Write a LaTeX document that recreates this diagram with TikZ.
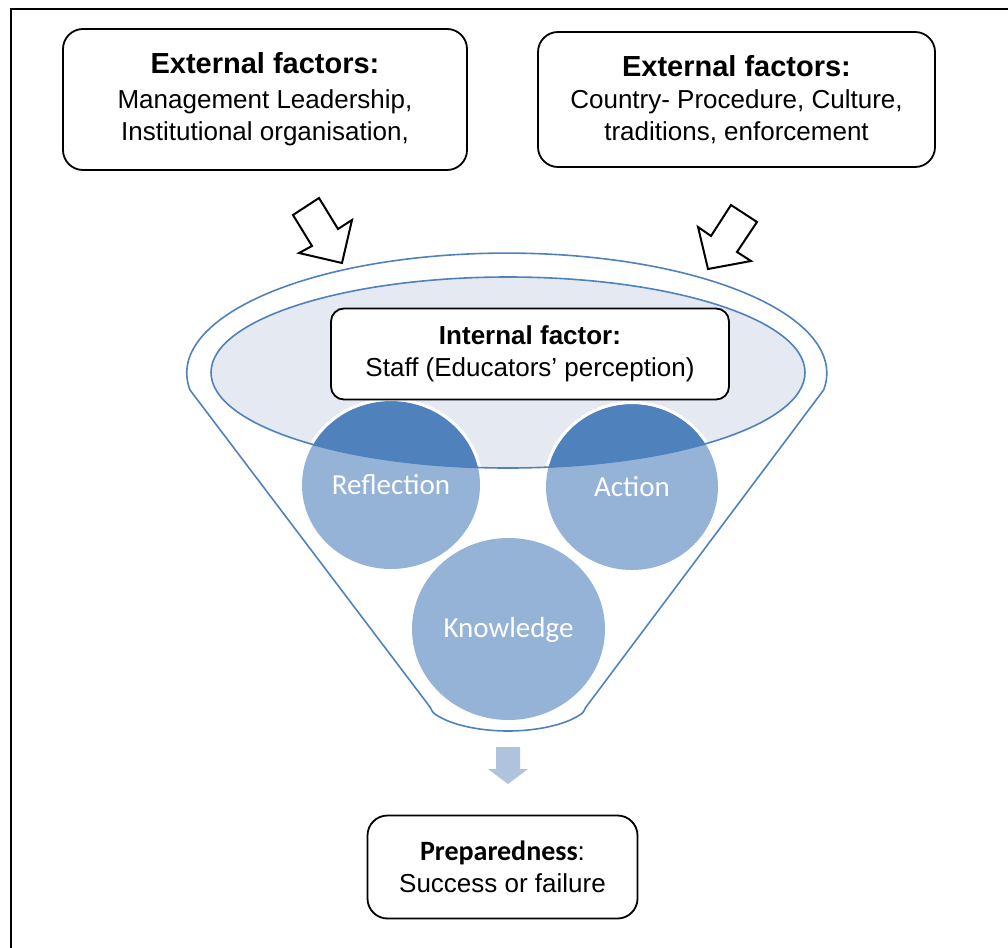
\documentclass[tikz,border=0pt]{standalone}
\usepackage{fontspec}
\setmainfont{Liberation Sans}
\newfontfamily\calfont{Carlito}
\usetikzlibrary{shapes.geometric}
\definecolor{fblue}{HTML}{4F81BD}
\definecolor{lblue}{HTML}{95B3D7}
\definecolor{efill}{HTML}{E4E9F2}
\definecolor{darrow}{HTML}{AFC2DE}
\begin{document}
\begin{tikzpicture}[x=1pt,y=-1pt,
  extbox/.style={draw, line width=1.8pt, rounded corners=20pt, align=center, inner sep=0pt, fill=white,
    font=\fontsize{26}{32}\selectfont},
  blockarrow/.style={draw=black, fill=white, line width=2pt, line join=miter},
  circlabel/.style={text=white, inner sep=0pt, anchor=base, font=\calfont\fontsize{29}{34}\selectfont},
  funnelline/.style={draw=fblue, line width=1.6pt, line join=round}
]
\useasboundingbox (0,0) rectangle (1008,947);
\clip (0,0) rectangle (1008,947);
% frame
\draw[line width=2pt] (11,950) -- (11,9) -- (1012,9);

% external boxes
\node[extbox, minimum width=404pt, minimum height=141pt] (ext1) at (265,99.5)
  {{\fontsize{29}{34}\selectfont\bfseries External factors:}\\[3pt] Management Leadership,\\ Institutional organisation,};
\node[extbox, minimum width=397pt, minimum height=135pt] (ext2) at (736.5,99.5)
  {{\fontsize{29}{34}\selectfont\bfseries External factors:}\\[0pt] Country- Procedure, Culture,\\ traditions, enforcement};

% block arrows
\draw[blockarrow] (293,215) -- (319,198) -- (338,229) -- (352,220) -- (342,263) -- (299,253) -- (312,246) -- cycle;
\draw[blockarrow] (731,205) -- (757,222) -- (737,252) -- (751,261) -- (708,269) -- (698,227) -- (711,236) -- cycle;

% funnel outline
\draw[funnelline] (190,390) arc[start angle=171.9, end angle=368.1, x radius=320, y radius=120]
  -- (586,707) .. controls (583,713) .. (578,716)
  .. controls (560,727) and (530,731) .. (508,731)
  .. controls (486,731) and (456,727) .. (438,716)
  .. controls (433,713) .. (430,707) -- cycle;

% inner ellipse fill
\fill[efill] (508,372.5) ellipse [x radius=297, y radius=95.5];

% circles light
\fill[lblue] (391,485) ellipse [x radius=89, y radius=84];
\fill[lblue] (632,487) ellipse [x radius=86, y radius=83];
\fill[lblue] (508.5,629) ellipse [x radius=96.5, y radius=91];
% dark parts inside ellipse
\begin{scope}
  \clip (508,372.5) ellipse [x radius=297, y radius=95.5];
  \fill[fblue] (391,485) ellipse [x radius=89, y radius=84];
  \fill[fblue] (632,487) ellipse [x radius=86, y radius=83];
  \draw[white, line width=3pt] (391,485) ellipse [x radius=90.5, y radius=85.5];
  \draw[white, line width=3pt] (632,487) ellipse [x radius=87.5, y radius=84.5];
\end{scope}
% inner ellipse outline
\draw[funnelline] (508,372.5) ellipse [x radius=297, y radius=95.5];

% circle labels
\node[circlabel] (refl) at (391,494) {Reflection};
\node[circlabel] (act) at (632,496) {Action};
\node[circlabel] (know) at (508.5,637) {Knowledge};

% internal box
\node[extbox, rounded corners=13pt, minimum width=398pt, minimum height=91pt] (int) at (530,354)
  {\textbf{Internal factor:}\\ Staff (Educators’ perception)};

% down arrow
\fill[darrow] (496,747) -- (520,747) -- (520,769) -- (528,769) -- (508,784) -- (488,769) -- (496,769) -- cycle;

% preparedness box
\node[extbox, minimum width=270pt, minimum height=103pt] (prep) at (502.5,867)
  {{\calfont\bfseries\fontsize{28}{32}\selectfont Preparedness}:\\ Success or failure};
\end{tikzpicture}
\end{document}
